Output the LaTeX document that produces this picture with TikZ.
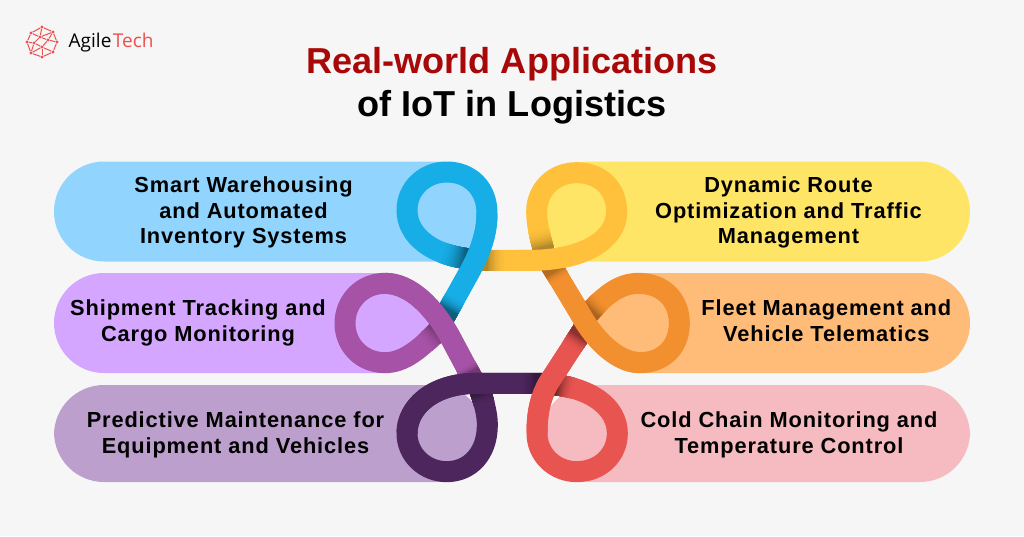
\documentclass[tikz,border=0pt]{standalone}
\usepackage{fontspec}
\setmainfont{Liberation Sans}
\newfontfamily\labelfont[LetterSpace=4,Scale=1]{Liberation Sans Bold}
\newfontfamily\logofont{Open Sans}
\definecolor{pgbg}{HTML}{F6F6F6}
\definecolor{titlered}{HTML}{A80808}
\definecolor{logored}{HTML}{EE4F50}
\definecolor{pblue}{HTML}{91D5FF}
\definecolor{ppurple}{HTML}{D4A6FF}
\definecolor{pdusty}{HTML}{BC9FCC}
\definecolor{pyellow}{HTML}{FFE566}
\definecolor{porange}{HTML}{FFBB78}
\definecolor{ppink}{HTML}{F5BBC0}
\definecolor{rblue}{HTML}{17ADE6}
\definecolor{rpurple}{HTML}{A652A6}
\definecolor{rdark}{HTML}{4E265E}
\definecolor{rgold}{HTML}{FFC13B}
\definecolor{rorange}{HTML}{F28F2E}
\definecolor{rred}{HTML}{E85450}
\tikzset{
  pill/.style={rounded corners=50pt},
  ribbon/.style={line width=21pt,line cap=butt,line join=round},
  applabel/.style={align=center,text=black,font=\fontsize{21.8}{25.6}\selectfont\labelfont,inner sep=0pt},
  titletext/.style={font=\fontsize{36.1}{43}\selectfont\bfseries,inner sep=0pt},
  lognode/.style={circle,fill=logored,inner sep=0pt,minimum size=3.4pt},
  logline/.style={draw=logored,line width=1pt}
}
% #1 path starting at the hidden end, #2 hidden length, #3 fade length, #4 colour, #5 darkest percent of black
\newcommand{\ribfade}[5]{%
  \foreach \i in {15,14,...,0}{%
    \pgfmathsetmacro{\mixv}{100-#5*(1-\i/16)*(1-\i/16)}
    \pgfmathsetmacro{\lenv}{#2+#3*(\i+1)/16}
    \draw[ribbon,#4!\mixv!black,dash pattern=on \lenv pt off 5000pt] #1;
  }}
\begin{document}
\begin{tikzpicture}[x=1pt,y=-1pt]
\useasboundingbox[fill=pgbg] (0,0) rectangle (1024,536);
% pills
\fill[pblue,pill] (54,161.5) rectangle (485,261.5);
\fill[ppurple,pill] (54,273) rectangle (430,373);
\fill[pdusty,pill] (54,385) rectangle (485,482);
\fill[pyellow,pill] (540,161.5) rectangle (970,261.5);
\fill[porange,pill] (592,273) rectangle (970,373);
\fill[ppink,pill] (542,385) rectangle (970,482);
% ribbons, in units of a third of a pixel
\begin{scope}[shift={(330pt,-150pt)},x=0.33333pt,y=-0.33333pt]
\def\goldmain{(445,331) -- (600,331) .. controls (760,331) and (860,270) .. (860,185)}
\def\bluemain{(340,507) -- (405,390) .. controls (445,320) and (471,260) .. (471,190)}
\def\purplemain{(432,695) -- (360,560) .. controls (310,470) and (240,400) .. (165,400)}
\def\darkmain{(640,700) -- (440,700) .. controls (310,700) and (231,770) .. (231,850)}
\def\redmain{(775,515) -- (655,700) .. controls (630,745) and (621,790) .. (621,850)}
\def\orangemain{(660,340) -- (750,490) .. controls (790,565) and (860,638) .. (930,638)}
% gold, first pass
\draw[ribbon,rgold] \goldmain .. controls (860,115) and (810,68) .. (740,68) .. controls (670,68) and (620,120) .. (620,185) .. controls (620,225) and (630,260) .. (645,315);
\ribfade{(445,331) -- (600,331)}{8}{20}{rgold}{30}
% blue
\draw[ribbon,rblue] \bluemain .. controls (471,115) and (420,66) .. (350,66) .. controls (285,66) and (231,115) .. (231,180) .. controls (231,260) and (310,318) .. (430,328);
\ribfade{(430,328) .. controls (310,318) and (231,260) .. (231,180)}{8}{25}{rblue}{45}
\draw[ribbon,rblue] \bluemain;
\ribfade{(340,507) -- (405,390)}{10}{15}{rblue}{45}
% purple
\draw[ribbon,rpurple] \purplemain .. controls (95,400) and (45,455) .. (45,520) .. controls (45,585) and (95,638) .. (165,638) .. controls (220,638) and (270,600) .. (340,525);
\ribfade{(340,525) .. controls (270,600) and (220,638) .. (165,638)}{8}{18}{rpurple}{35}
\draw[ribbon,rpurple] \purplemain;
\ribfade{(432,695) -- (360,560)}{10}{8}{rpurple}{30}
% dark purple
\draw[ribbon,rdark] \darkmain .. controls (231,915) and (285,965) .. (350,965) .. controls (420,965) and (472,910) .. (472,825) .. controls (472,795) and (465,765) .. (448,715);
\ribfade{(448,715) .. controls (465,765) and (472,795) .. (472,825)}{5}{12}{rdark}{30}
\draw[ribbon,rdark] \darkmain;
\ribfade{(640,700) -- (440,700)}{7}{18}{rdark}{35}
% red
\draw[ribbon,rred] \redmain .. controls (621,915) and (675,965) .. (740,965) .. controls (810,965) and (862,915) .. (862,850) .. controls (862,770) and (780,712) .. (660,703);
\ribfade{(660,703) .. controls (780,712) and (862,770) .. (862,850)}{7}{18}{rred}{50}
\draw[ribbon,rred] \redmain;
\ribfade{(775,515) -- (655,700)}{17}{14}{rred}{40}
% orange
\draw[ribbon,rorange] \orangemain .. controls (1000,638) and (1048,590) .. (1048,520) .. controls (1048,450) and (1000,400) .. (925,400) .. controls (870,400) and (820,435) .. (765,505);
\ribfade{(765,505) .. controls (820,435) and (870,400) .. (925,400)}{10}{14}{rorange}{30}
\draw[ribbon,rorange] \orangemain;
\ribfade{(660,340) -- (750,490)}{9}{10}{rorange}{25}
% gold again, over its own tail and the start of orange
\ribfade{(645,315) .. controls (630,260) and (620,225) .. (620,185)}{7}{20}{rgold}{30}
\draw[ribbon,rgold] (560,331) -- (600,331) .. controls (760,331) and (860,270) .. (860,185);
\end{scope}
% labels
\node[applabel] (l1) at (243.5,212.5) {Smart Warehousing\\and Automated\\Inventory Systems};
\node[applabel] (l2) at (198,323) {Shipment Tracking and\\Cargo Monitoring};
\node[applabel] (l3) at (235.5,435) {Predictive Maintenance for\\Equipment and Vehicles};
\node[applabel] (l4) at (788.5,212.5) {Dynamic Route\\Optimization and Traffic\\Management};
\node[applabel] (l5) at (826.3,321) {Fleet Management and\\Vehicle Telematics};
\node[applabel] (l6) at (789,435) {Cold Chain Monitoring and\\Temperature Control};
% title
\node[titletext,text=titlered] (t1) at (512,64) {Real-world Applications};
\node[titletext,text=black] (t2) at (512,107) {of IoT in Logistics};
% logo
\node[inner sep=0pt,anchor=west,font=\fontsize{19}{22}\selectfont\logofont] (brand) at (68.5,43) {Agile\kern1.5pt\textcolor{logored}{Tech}};
\foreach \n/\x/\y in {a/42/27,b/53/32,c/57/42,d/53/52,e/42/57,f/31/53,g/27/42,h/31/33,i/40/37,j/48/40,k/42/47,m/34/43}
  \node[lognode] (\n) at (\x,\y) {};
\foreach \p/\q in {a/b,b/c,c/d,d/e,e/f,f/g,g/h,h/a,h/i,a/i,i/j,b/j,j/c,j/k,k/d,k/e,k/f,i/m,m/g,m/k,m/f,i/b}
  \draw[logline] (\p) -- (\q);
\end{tikzpicture}
\end{document}
